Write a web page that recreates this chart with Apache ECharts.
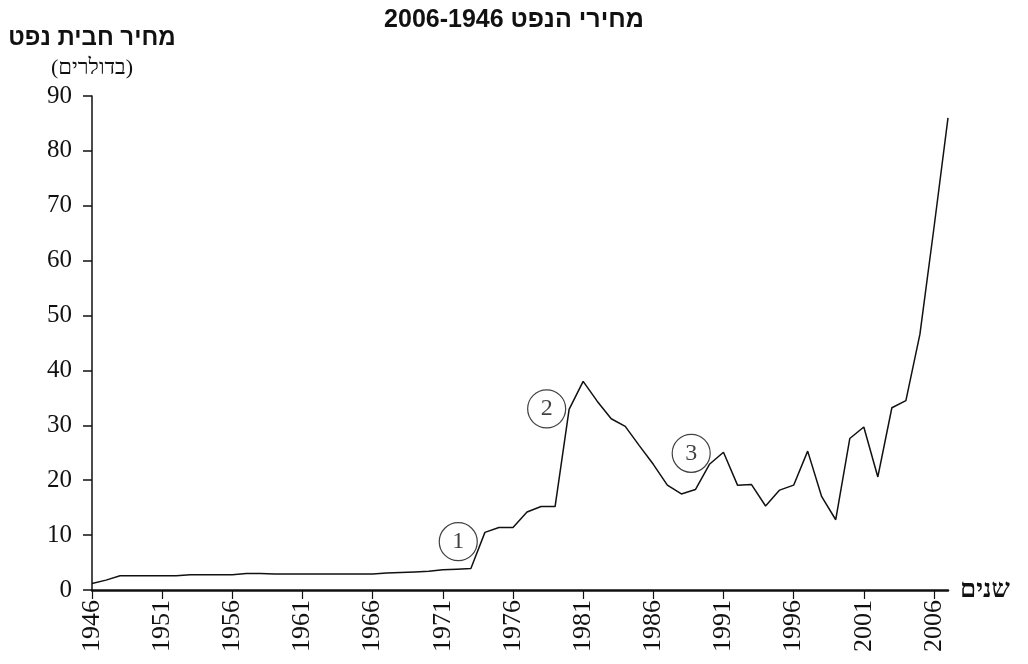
<!DOCTYPE html>
<html>
<head>
<meta charset="utf-8">
<script src="https://cdn.jsdelivr.net/npm/echarts@6/dist/echarts.min.js"></script>
<style>
html,body{margin:0;padding:0;background:#fff;}
#chart{width:1028px;height:664px;}
</style>
</head>
<body>
<div id="chart" dir="rtl"></div>
<script>
// Years (categories)
const years = [];
for (let y = 1946; y <= 2007; y++) years.push(String(y));

// Oil price per barrel (USD)
const prices = [
  1.2, 1.8, 2.6, 2.6, 2.6, 2.6, 2.6, 2.8, 2.8, 2.8,   // 1946-1955
  2.8, 3.0, 3.0, 2.9, 2.9, 2.9, 2.9, 2.9, 2.9, 2.9,   // 1956-1965
  2.9, 3.1, 3.2, 3.3, 3.4, 3.7, 3.8, 3.9, 10.5, 11.4, // 1966-1975
  11.4, 14.2, 15.2, 15.2, 32.9, 38.0, 34.4, 31.2, 29.8, 26.3, // 1976-1985
  22.9, 19.1, 17.5, 18.3, 22.9, 25.1, 19.1, 19.2, 15.3, 18.2, // 1986-1995
  19.1, 25.3, 17.0, 12.8, 27.6, 29.7, 20.6, 33.2, 34.5, 46.6, // 1996-2005
  66.0, 86.0                                               // 2006-2007
];

// Circled event markers: [year position, value level], label
const markerPos = [[1972.1, 8.8], [1978.4, 33.0], [1988.7, 24.9]];
const markerLabels = ['1', '2', '3'];

const titleText = 'מחירי הנפט 2006-1946';
const yName = 'מחיר חבית נפט';
const yUnit = '(בדולרים)';
const xName = 'שנים';

const serif = '"Liberation Serif", "DejaVu Serif", serif';
const sans = '"Liberation Sans", "DejaVu Sans", sans-serif';

const chart = echarts.init(document.getElementById('chart'), null, {renderer: 'canvas'});
chart.setOption({
  backgroundColor: '#ffffff',
  animation: false,
  title: {
    text: titleText,
    left: 'center',
    top: 3,
    textStyle: {fontFamily: sans, fontWeight: 'bold', fontSize: 25, color: '#111'}
  },
  grid: {left: 92, right: 80, top: 96, bottom: 74, containLabel: false},
  xAxis: [{
    type: 'category',
    data: years,
    boundaryGap: false,
    name: xName,
    nameLocation: 'end',
    nameGap: 12,
    nameTextStyle: {fontFamily: serif, fontSize: 26, fontWeight: 'bold', color: '#111', verticalAlign: 'middle'},
    axisLine: {lineStyle: {color: '#111', width: 2.5}},
    axisTick: {show: true, length: 9, lineStyle: {color: '#111', width: 1.2},
      interval: function (i) { return i % 5 === 0; }},
    axisLabel: {
      rotate: 90, margin: 10,
      interval: function (i) { return i % 5 === 0; },
      fontFamily: serif, fontSize: 26, color: '#111'
    },
    splitLine: {show: false}
  }, {
    type: 'value',
    min: 1946, max: 2007,
    show: false
  }],
  yAxis: {
    type: 'value',
    min: 0, max: 90, interval: 10,
    name: '{a|' + yName + '}\n{b|' + yUnit + '}',
    nameLocation: 'end',
    nameGap: 14,
    nameTextStyle: {
      align: 'center',
      rich: {
        a: {fontFamily: sans, fontWeight: 'bold', fontSize: 24, lineHeight: 32, color: '#111'},
        b: {fontFamily: serif, fontSize: 22, lineHeight: 28, color: '#111'}
      }
    },
    axisLine: {show: true, lineStyle: {color: '#111', width: 1.5}},
    axisTick: {show: true, length: 9, lineStyle: {color: '#111', width: 1.5}},
    axisLabel: {margin: 20, fontFamily: serif, fontSize: 25, color: '#111'},
    splitLine: {show: false}
  },
  series: [{
    type: 'line',
    data: prices,
    showSymbol: false,
    symbol: 'none',
    lineStyle: {color: '#111', width: 1.5},
    z: 3
  }, {
    type: 'scatter',
    xAxisIndex: 1,
    data: markerPos.map((p, i) => ({value: p, name: markerLabels[i]})),
    symbol: 'circle',
    symbolSize: 38,
    itemStyle: {color: 'rgba(255,255,255,0)', borderColor: '#111', borderWidth: 1.2},
    label: {show: true, position: 'inside', formatter: '{b}', fontFamily: serif, fontSize: 24, color: '#111'},
    z: 4
  }]
});
</script>
</body>
</html>
